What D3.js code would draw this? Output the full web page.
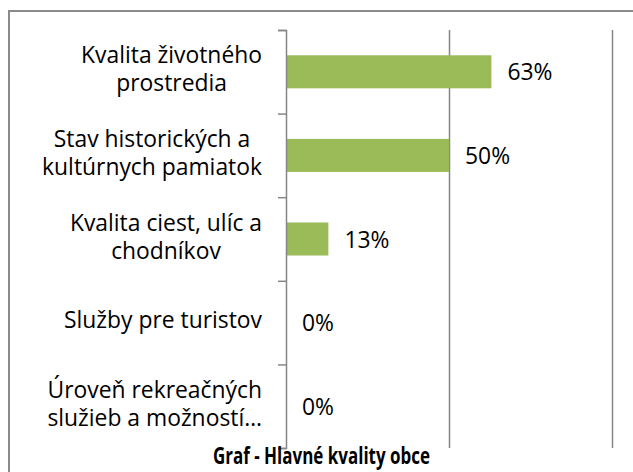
<!DOCTYPE html>
<html><head><meta charset="utf-8">
<script src="https://cdn.jsdelivr.net/npm/d3@7"></script>
<style>body{margin:0;background:#fff} svg{display:block}</style>
</head><body><svg id="c" width="633" height="472"></svg>
<script>
const categories = ["Kvalita životného|prostredia", "Stav historických a|kultúrnych pamiatok", "Kvalita ciest, ulíc a|chodníkov", "Služby pre turistov", "Úroveň rekreačných|služieb a možností…"];
const values = [0.63, 0.50, 0.13, 0, 0];
const valueLabels = ["63%", "50%", "13%", "0%", "0%"];
const gridTicks = [0.5, 1];
const title = "Graf - Hlavné kvality obce";

const FONT = "'Open Sans', sans-serif";
const svg = d3.select("#c");
const L = 286, R = 612, T = 30, B = 448;
const x = d3.scaleLinear().domain([0, 1]).range([L, R]);
const y = d3.scaleBand().domain(categories).range([T, B]).paddingInner(0.605).paddingOuter(0.3025);
const yb = d3.scaleLinear().domain([0, categories.length]).range([T, B]);

// fit font size so the first label line matches the reference width
function fit(str, target, weight) {
  const t = svg.append("text").attr("font-family", FONT).attr("font-size", 20).attr("font-weight", weight).text(str);
  const w = t.node().getComputedTextLength(); t.remove();
  return 20 * target / w;
}
const fs = fit("Kvalita životného", 181, "normal");

// border
svg.append("rect").attr("x", 9).attr("y", 11).attr("width", 640).attr("height", 480)
  .attr("fill", "none").attr("stroke", "#8a8a8a").attr("stroke-width", 2);

// gridlines
svg.append("g").attr("transform", `translate(0,${B})`)
  .call(d3.axisBottom(x).tickValues(gridTicks).tickSize(-(B - T)).tickFormat(""))
  .call(g => g.select(".domain").remove())
  .call(g => g.selectAll("line").attr("stroke", "#868686").attr("stroke-width", 1.5));

// bars
svg.append("g").selectAll("rect").data(values).join("rect")
  .attr("x", x(0)).attr("y", (d, i) => y(categories[i]))
  .attr("width", d => x(d) - x(0)).attr("height", y.bandwidth())
  .attr("fill", "#9bbb59");

// category axis
svg.append("g").attr("transform", `translate(${L},0)`)
  .call(d3.axisLeft(yb).tickValues(d3.range(categories.length + 1)).tickSize(8).tickFormat(""))
  .call(g => g.selectAll("path,line").attr("stroke", "#868686").attr("stroke-width", 1.5));

// category labels (each line its own text, block right-aligned, lines centred)
const lh = 28;
const lab = svg.append("g").attr("font-family", FONT).attr("font-size", fs).attr("fill", "#000");
categories.forEach((c, i) => {
  const lines = c.split("|");
  const cy = y(c) + y.bandwidth() / 2;
  const ts = lines.map((ln, j) => lab.append("text").attr("text-anchor", "middle")
    .attr("y", cy + (j - (lines.length - 1) / 2) * lh + 5.5).text(ln));
  const maxW = d3.max(ts, s => s.node().getComputedTextLength());
  ts.forEach(s => s.attr("x", 262 - maxW / 2));
});

// value labels
svg.append("g").attr("font-family", FONT).attr("font-size", fs).attr("fill", "#000")
  .selectAll("text").data(values).join("text")
  .attr("x", d => x(d) + 16).attr("y", (d, i) => y(categories[i]) + y.bandwidth() / 2 + 8.5)
  .text((d, i) => valueLabels[i]);

// title
svg.append("text").attr("x", 321.5).attr("y", 464).attr("text-anchor", "middle")
  .attr("font-family", FONT).attr("font-size", 22.5).attr("font-weight", "bold").attr("fill", "#000")
  .attr("textLength", 217).attr("lengthAdjust", "spacingAndGlyphs")
  .text(title);
</script></body></html>
